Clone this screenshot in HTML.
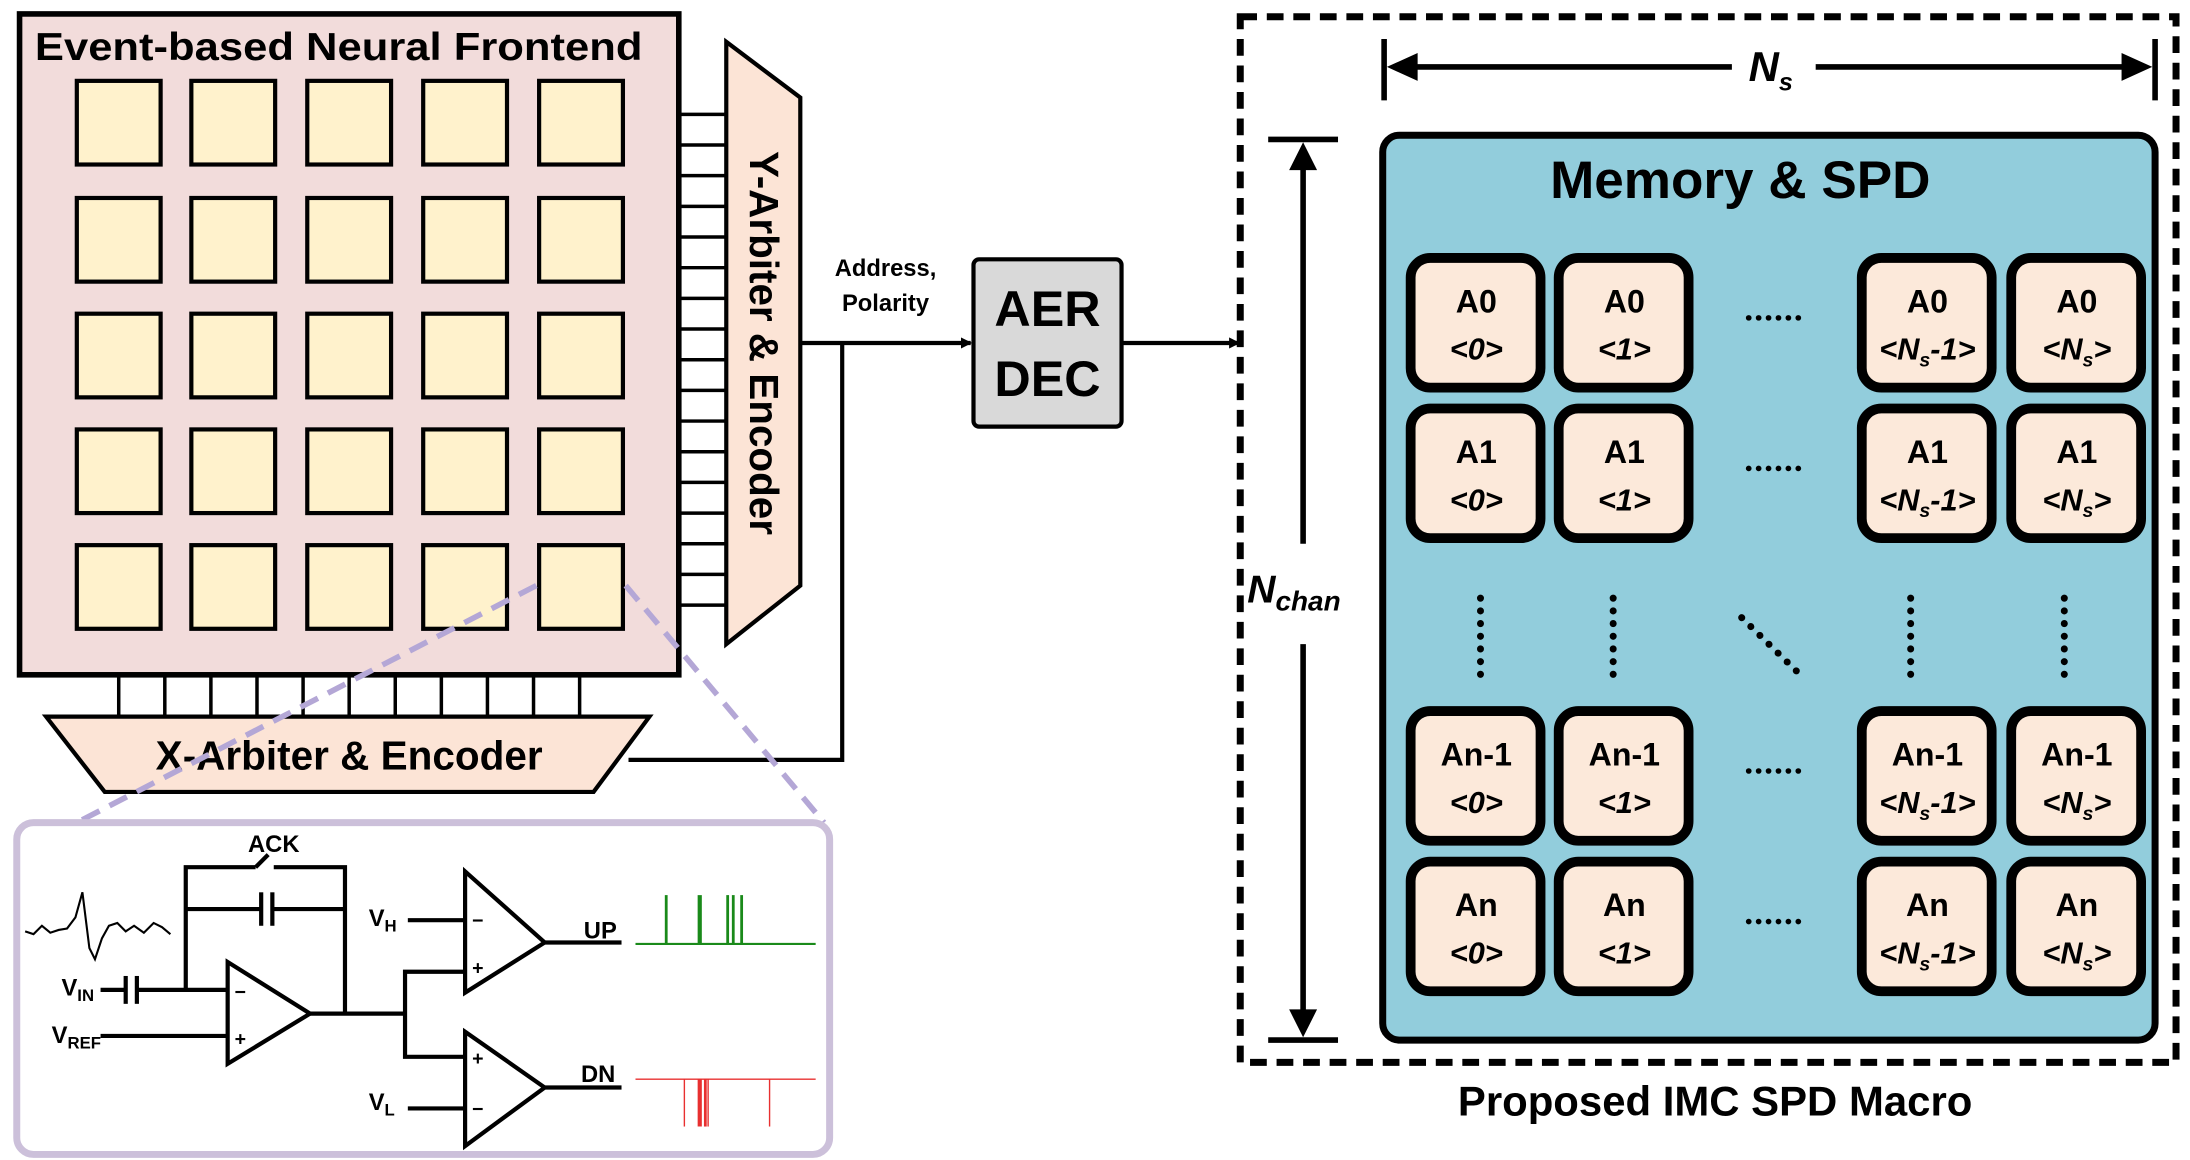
<!DOCTYPE html>
<html><head><meta charset="utf-8"><style>
html,body{margin:0;padding:0;background:#fff;}
svg{display:block;}
text{font-family:"Liberation Sans",sans-serif;}
</style></head><body>
<svg width="2190" height="1160" viewBox="0 0 1568 832" preserveAspectRatio="none" xmlns="http://www.w3.org/2000/svg">
<defs>
<marker id="ah" markerWidth="8" markerHeight="8" refX="7" refY="4" orient="auto" markerUnits="userSpaceOnUse"><path d="M0,0 L8,4 L0,8 z" fill="#000"/></marker>
</defs>
<rect x="14" y="10" width="472" height="474" fill="#f2dcdb" stroke="#000" stroke-width="4"/>
<text x="25" y="43" font-size="28" font-weight="bold" textLength="435" lengthAdjust="spacingAndGlyphs">Event-based Neural Frontend</text>
<g fill="#fff2cc" stroke="#000" stroke-width="3">
<rect x="55" y="58" width="60" height="60"/><rect x="137" y="58" width="60" height="60"/><rect x="220" y="58" width="60" height="60"/><rect x="303" y="58" width="60" height="60"/><rect x="386" y="58" width="60" height="60"/>
<rect x="55" y="142" width="60" height="60"/><rect x="137" y="142" width="60" height="60"/><rect x="220" y="142" width="60" height="60"/><rect x="303" y="142" width="60" height="60"/><rect x="386" y="142" width="60" height="60"/>
<rect x="55" y="225" width="60" height="60"/><rect x="137" y="225" width="60" height="60"/><rect x="220" y="225" width="60" height="60"/><rect x="303" y="225" width="60" height="60"/><rect x="386" y="225" width="60" height="60"/>
<rect x="55" y="308" width="60" height="60"/><rect x="137" y="308" width="60" height="60"/><rect x="220" y="308" width="60" height="60"/><rect x="303" y="308" width="60" height="60"/><rect x="386" y="308" width="60" height="60"/>
<rect x="55" y="391" width="60" height="60"/><rect x="137" y="391" width="60" height="60"/><rect x="220" y="391" width="60" height="60"/><rect x="303" y="391" width="60" height="60"/><rect x="386" y="391" width="60" height="60"/>
</g>
<g stroke="#000" stroke-width="2.5">
<line x1="486" y1="82" x2="520" y2="82"/><line x1="486" y1="104" x2="520" y2="104"/><line x1="486" y1="126" x2="520" y2="126"/><line x1="486" y1="148" x2="520" y2="148"/><line x1="486" y1="170" x2="520" y2="170"/><line x1="486" y1="192" x2="520" y2="192"/><line x1="486" y1="214" x2="520" y2="214"/><line x1="486" y1="236" x2="520" y2="236"/><line x1="486" y1="258" x2="520" y2="258"/><line x1="486" y1="280" x2="520" y2="280"/><line x1="486" y1="302" x2="520" y2="302"/><line x1="486" y1="324" x2="520" y2="324"/><line x1="486" y1="346" x2="520" y2="346"/><line x1="486" y1="368" x2="520" y2="368"/><line x1="486" y1="390" x2="520" y2="390"/><line x1="486" y1="412" x2="520" y2="412"/><line x1="486" y1="434" x2="520" y2="434"/>
<line x1="85" y1="484" x2="85" y2="514"/><line x1="118" y1="484" x2="118" y2="514"/><line x1="151" y1="484" x2="151" y2="514"/><line x1="184" y1="484" x2="184" y2="514"/><line x1="217" y1="484" x2="217" y2="514"/><line x1="250" y1="484" x2="250" y2="514"/><line x1="283" y1="484" x2="283" y2="514"/><line x1="316" y1="484" x2="316" y2="514"/><line x1="349" y1="484" x2="349" y2="514"/><line x1="382" y1="484" x2="382" y2="514"/><line x1="415" y1="484" x2="415" y2="514"/>
</g>
<polygon points="520,30 573,70 573,420 520,462" fill="#fce4d6" stroke="#000" stroke-width="3"/>
<text transform="translate(537,246) rotate(90)" font-size="29" font-weight="bold" text-anchor="middle">Y-Arbiter &amp; Encoder</text>
<polygon points="33,514 465,514 425,568 75,568" fill="#fce4d6" stroke="#000" stroke-width="3"/>
<text x="250" y="552" font-size="29" font-weight="bold" text-anchor="middle">X-Arbiter &amp; Encoder</text>
<g stroke="#000" stroke-width="3" fill="none">
<polyline points="450,545 603,545 603,246"/>
<line x1="573" y1="246" x2="695" y2="246" marker-end="url(#ah)"/>
<line x1="803" y1="246" x2="887" y2="246" marker-end="url(#ah)"/>
</g>
<text x="634" y="198" font-size="17" font-weight="bold" text-anchor="middle">Address,</text>
<text x="634" y="223" font-size="17" font-weight="bold" text-anchor="middle">Polarity</text>
<rect x="697" y="186" width="106" height="120" rx="4" fill="#d9d9d9" stroke="#000" stroke-width="3"/>
<text x="750" y="234" font-size="36" font-weight="bold" text-anchor="middle">AER</text>
<text x="750" y="284" font-size="36" font-weight="bold" text-anchor="middle">DEC</text>
<g stroke="#b4a7d6" stroke-width="4" stroke-dasharray="14,8">
<line x1="384" y1="420" x2="55" y2="590"/><line x1="448" y1="420" x2="590" y2="590"/>
</g>
<rect x="12" y="590" width="582" height="238" rx="12" fill="#fff" stroke="#ccc0da" stroke-width="5"/>
<polyline points="18,668 24,670 30,664 36,669 42,667 48,666 54,658 59,640 64,680 68,688 73,673 78,664 84,662 90,668 96,664 103,669 110,662 116,665 122,670" fill="none" stroke="#000" stroke-width="1.5"/>
<g stroke="#000" stroke-width="3" fill="none">
<polyline points="133,710 133,622 183,622"/><line x1="183" y1="622" x2="192" y2="613"/><polyline points="196,622 247,622 247,727"/>
<line x1="133" y1="652" x2="186" y2="652"/><line x1="196" y1="652" x2="247" y2="652"/>
<line x1="187" y1="640" x2="187" y2="664"/><line x1="195" y1="640" x2="195" y2="664"/>
<line x1="72" y1="710" x2="89" y2="710"/><line x1="90" y1="700" x2="90" y2="720"/><line x1="98" y1="700" x2="98" y2="720"/><line x1="99" y1="710" x2="163" y2="710"/>
<line x1="72" y1="743" x2="163" y2="743"/>
<polygon points="163,690 222,727 163,763"/>
<polyline points="222,727 290,727"/><polyline points="333,697 290,697 290,758 333,758"/>
<line x1="292" y1="660" x2="333" y2="660"/><line x1="292" y1="795" x2="333" y2="795"/>
<polygon points="333,625 390,676 333,712"/><polygon points="333,740 390,780 333,822"/>
<line x1="390" y1="676" x2="445" y2="676"/><line x1="390" y1="780" x2="445" y2="780"/>
</g>
<g font-size="14" font-weight="bold">
<text x="168" y="716">−</text><text x="168" y="750">+</text>
<text x="338" y="665">−</text><text x="338" y="699">+</text>
<text x="338" y="764">+</text><text x="338" y="800">−</text>
</g>
<g font-size="17" font-weight="bold">
<text x="196" y="611" text-anchor="middle">ACK</text>
<text x="44" y="714">V<tspan font-size="12" dy="4">IN</tspan></text>
<text x="37" y="748">V<tspan font-size="12" dy="4">REF</tspan></text>
<text x="264" y="664">V<tspan font-size="12" dy="4">H</tspan></text>
<text x="264" y="796">V<tspan font-size="12" dy="4">L</tspan></text>
<text x="418" y="673">UP</text>
<text x="416" y="776">DN</text>
</g>
<g stroke="#1a8a1a" stroke-width="1.5"><line x1="455" y1="677" x2="584" y2="677"/>
<line x1="477" y1="677" x2="477" y2="642" stroke-width="2"/><line x1="501" y1="677" x2="501" y2="642" stroke-width="3"/><line x1="521" y1="677" x2="521" y2="642" stroke-width="2"/><line x1="525" y1="677" x2="525" y2="642" stroke-width="2"/><line x1="531" y1="677" x2="531" y2="642" stroke-width="2"/></g>
<g stroke="#e83030" stroke-width="1"><line x1="455" y1="774" x2="584" y2="774"/>
<line x1="490" y1="774" x2="490" y2="808"/><line x1="501" y1="774" x2="501" y2="808" stroke-width="3"/><line x1="505" y1="774" x2="505" y2="808" stroke-width="2"/><line x1="507" y1="774" x2="507" y2="808"/><line x1="551" y1="774" x2="551" y2="808"/></g>
<rect x="888" y="12" width="670" height="750" fill="none" stroke="#000" stroke-width="5" stroke-dasharray="12,7"/>
<g stroke="#000" stroke-width="4">
<line x1="991" y1="28" x2="991" y2="72"/><line x1="1543" y1="28" x2="1543" y2="72"/>
<line x1="1000" y1="48" x2="1240" y2="48"/><line x1="1300" y1="48" x2="1535" y2="48"/>
<line x1="908" y1="100" x2="958" y2="100"/><line x1="908" y1="746" x2="958" y2="746"/>
<line x1="933" y1="108" x2="933" y2="390"/><line x1="933" y1="462" x2="933" y2="738"/>
</g>
<path d="M993,48 L1015,38 L1015,58 z M1541,48 L1519,38 L1519,58 z M933,102 L923,122 L943,122 z M933,744 L923,724 L943,724 z" fill="#000"/>
<text x="1252" y="58" font-size="30" font-weight="bold" font-style="italic">N<tspan font-size="18" dy="7">s</tspan></text>
<text x="893" y="432" font-size="28" font-weight="bold" font-style="italic">N<tspan font-size="20" dy="6">chan</tspan></text>
<rect x="990" y="97" width="553" height="649" rx="12" fill="#92cddc" stroke="#000" stroke-width="5"/>
<text x="1246" y="142" font-size="38" font-weight="bold" text-anchor="middle">Memory &amp; SPD</text>
<g fill="#fce9da" stroke="#000" stroke-width="7">
<rect x="1010" y="185" width="93" height="93" rx="14"/><rect x="1116" y="185" width="93" height="93" rx="14"/><rect x="1333" y="185" width="93" height="93" rx="14"/><rect x="1440" y="185" width="93" height="93" rx="14"/>
<rect x="1010" y="293" width="93" height="93" rx="14"/><rect x="1116" y="293" width="93" height="93" rx="14"/><rect x="1333" y="293" width="93" height="93" rx="14"/><rect x="1440" y="293" width="93" height="93" rx="14"/>
<rect x="1010" y="510" width="93" height="93" rx="14"/><rect x="1116" y="510" width="93" height="93" rx="14"/><rect x="1333" y="510" width="93" height="93" rx="14"/><rect x="1440" y="510" width="93" height="93" rx="14"/>
<rect x="1010" y="618" width="93" height="93" rx="14"/><rect x="1116" y="618" width="93" height="93" rx="14"/><rect x="1333" y="618" width="93" height="93" rx="14"/><rect x="1440" y="618" width="93" height="93" rx="14"/>
</g>
<g font-size="23" font-weight="bold" text-anchor="middle">
<text x="1057" y="224">A0</text><text x="1163" y="224">A0</text><text x="1380" y="224">A0</text><text x="1487" y="224">A0</text>
<text x="1057" y="332">A1</text><text x="1163" y="332">A1</text><text x="1380" y="332">A1</text><text x="1487" y="332">A1</text>
<text x="1057" y="549">An-1</text><text x="1163" y="549">An-1</text><text x="1380" y="549">An-1</text><text x="1487" y="549">An-1</text>
<text x="1057" y="657">An</text><text x="1163" y="657">An</text><text x="1380" y="657">An</text><text x="1487" y="657">An</text>
</g>
<g font-size="22" font-weight="bold" font-style="italic" text-anchor="middle">
<text x="1057" y="258">&lt;0&gt;</text><text x="1163" y="258">&lt;1&gt;</text><text x="1380" y="258">&lt;N<tspan font-size="14" dy="5">s</tspan><tspan dy="-5">-1&gt;</tspan></text><text x="1487" y="258">&lt;N<tspan font-size="14" dy="5">s</tspan><tspan dy="-5">&gt;</tspan></text>
<text x="1057" y="366">&lt;0&gt;</text><text x="1163" y="366">&lt;1&gt;</text><text x="1380" y="366">&lt;N<tspan font-size="14" dy="5">s</tspan><tspan dy="-5">-1&gt;</tspan></text><text x="1487" y="366">&lt;N<tspan font-size="14" dy="5">s</tspan><tspan dy="-5">&gt;</tspan></text>
<text x="1057" y="583">&lt;0&gt;</text><text x="1163" y="583">&lt;1&gt;</text><text x="1380" y="583">&lt;N<tspan font-size="14" dy="5">s</tspan><tspan dy="-5">-1&gt;</tspan></text><text x="1487" y="583">&lt;N<tspan font-size="14" dy="5">s</tspan><tspan dy="-5">&gt;</tspan></text>
<text x="1057" y="691">&lt;0&gt;</text><text x="1163" y="691">&lt;1&gt;</text><text x="1380" y="691">&lt;N<tspan font-size="14" dy="5">s</tspan><tspan dy="-5">-1&gt;</tspan></text><text x="1487" y="691">&lt;N<tspan font-size="14" dy="5">s</tspan><tspan dy="-5">&gt;</tspan></text>
</g>
<g stroke="#000" stroke-width="4" stroke-linecap="round" stroke-dasharray="0.1,7">
<line x1="1252" y1="228" x2="1292" y2="228"/><line x1="1252" y1="336" x2="1292" y2="336"/>
<line x1="1252" y1="553" x2="1292" y2="553"/><line x1="1252" y1="661" x2="1292" y2="661"/>
</g>
<g stroke="#000" stroke-width="5" stroke-linecap="round" stroke-dasharray="0.1,9">
<line x1="1060" y1="429" x2="1060" y2="485"/><line x1="1155" y1="429" x2="1155" y2="485"/><line x1="1368" y1="429" x2="1368" y2="485"/><line x1="1478" y1="429" x2="1478" y2="485"/>
<line x1="1247" y1="443" x2="1289" y2="484"/>
</g>
<text x="1228" y="800" font-size="30" font-weight="bold" text-anchor="middle">Proposed IMC SPD Macro</text>
</svg>
</body></html>
